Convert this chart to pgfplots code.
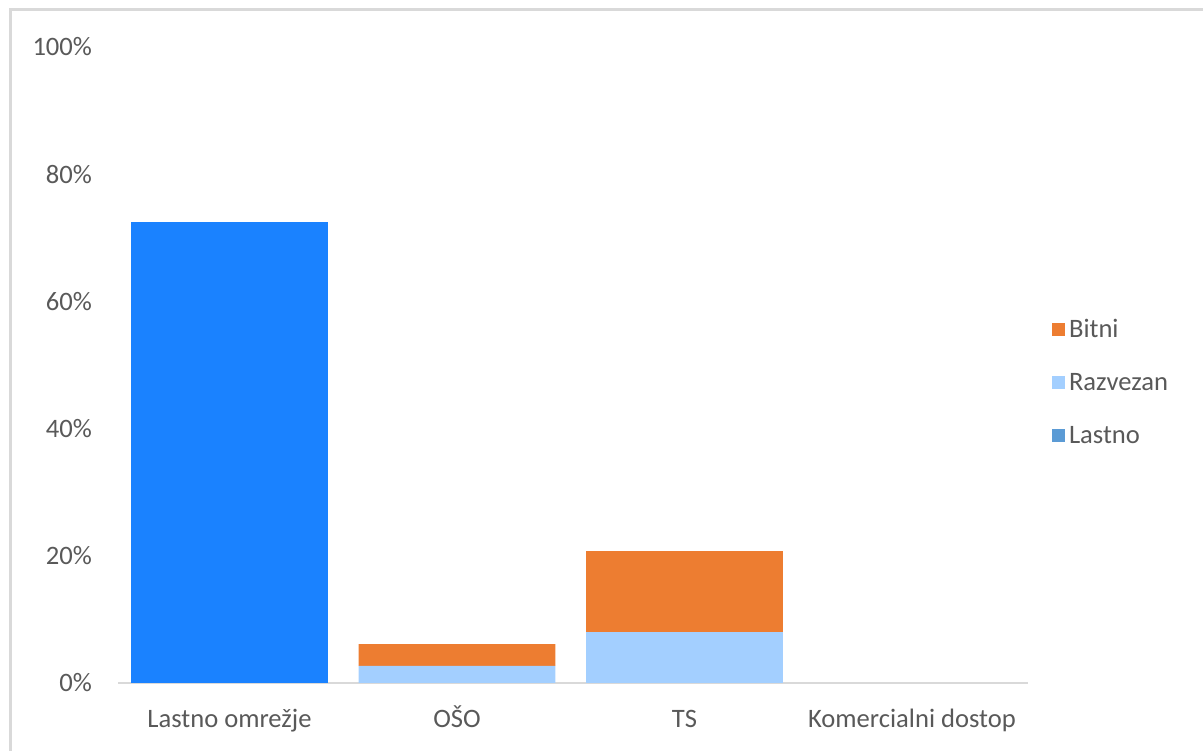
\documentclass[border=0pt]{standalone}
\usepackage{pgfplots}
\pgfplotsset{compat=1.18}
\usepackage{fontspec}
\setmainfont{Carlito}
\definecolor{lastno}{HTML}{1A82FF}
\definecolor{lastnoleg}{HTML}{5B9BD5}
\definecolor{razvezan}{HTML}{A3CFFF}
\definecolor{bitni}{HTML}{ED7D31}
\definecolor{txt}{HTML}{595959}
\definecolor{frame}{HTML}{D9D9D9}
\begin{document}
\begin{tikzpicture}
\path[use as bounding box] (0,0) rectangle (601.5bp,375.5bp);
\draw[frame, line width=1.5bp] (5bp,0) -- (5bp,370.5bp) -- (601.5bp,370.5bp);
\begin{axis}[
  at={(59bp,34bp)}, anchor=south west,
  scale only axis, width=455bp, height=318bp,
  ybar stacked, bar width=0.865,
  xmin=-0.49, xmax=3.51, ymin=0, ymax=100,
  xtick={0,1,2,3},
  xticklabels={Lastno omrežje, OŠO, TS, Komercialni dostop},
  ytick={0,20,40,60,80,100},
  yticklabel={\pgfmathprintnumber{\tick}\%},
  /pgf/number format/assume math mode=true,
  axis x line*=bottom, axis y line*=left,
  x axis line style={frame, line width=1bp, -},
  y axis line style={draw=none},
  major tick length=0pt,
  tick label style={font=\fontsize{13.3bp}{15bp}\selectfont, text=txt},
  xticklabel style={anchor=base, yshift=-22bp},
  yticklabel style={xshift=-9.5bp},
  ytick style={draw=none}, xtick style={draw=none},
  legend style={draw=none, fill=none, at={(1.026,0.472)}, anchor=west,
    font=\fontsize{13.3bp}{15bp}\selectfont, text=txt,
    row sep=12.5bp, inner sep=0pt,
    /tikz/every even column/.append style={column sep=3.5bp}},
  legend cell align=left,
  legend image code/.code={\fill[#1] (0bp,-3bp) rectangle (6.5bp,3.5bp);},
]
\addplot[fill=lastno, draw=none, forget plot] coordinates {(0,72.5) (1,0) (2,0) (3,0)};
\addplot[fill=razvezan, draw=none, forget plot] coordinates {(0,0) (1,2.7) (2,8.0) (3,0)};
\addplot[fill=bitni, draw=none, forget plot] coordinates {(0,0) (1,3.4) (2,12.75) (3,0)};
\addlegendimage{fill=bitni, draw=none}
\addlegendentry{Bitni}
\addlegendimage{fill=razvezan, draw=none}
\addlegendentry{Razvezan}
\addlegendimage{fill=lastnoleg, draw=none}
\addlegendentry{Lastno}
\end{axis}
\end{tikzpicture}
\end{document}
